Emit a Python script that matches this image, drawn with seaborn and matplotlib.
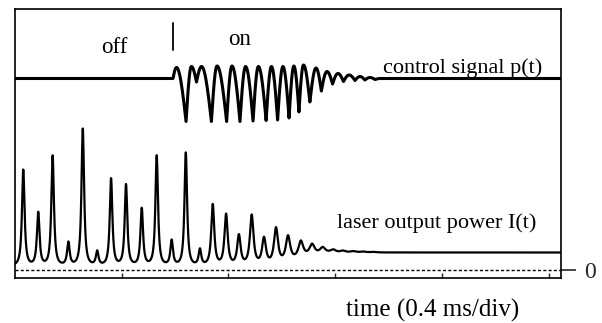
import numpy as np
import pandas as pd
import matplotlib
matplotlib.use("Agg")
import matplotlib.pyplot as plt
import seaborn as sns

# ---- laser output power I(t): relaxation spikes (time in ms, level above zero line) ----
spike_t = [0.031, 0.087, 0.141, 0.200, 0.254, 0.308, 0.360, 0.416, 0.475, 0.531,
           0.587, 0.640, 0.693, 0.741, 0.791, 0.839, 0.887, 0.933, 0.978, 1.023,
           1.071, 1.113, 1.153, 1.192, 1.229, 1.267, 1.304, 1.341]
spike_peak = [100, 57, 114, 27, 141, 18, 91, 85, 61, 114,
              29, 117, 20, 65, 55, 34, 54, 31, 41, 33,
              28, 25, 22, 20, 19, 18.6, 18.3, 18.0]
spike_width = [0.0065, 0.0065, 0.0065, 0.0065, 0.0065, 0.0065, 0.0065, 0.0065, 0.0065, 0.0065,
               0.0065, 0.0065, 0.0065, 0.0075, 0.0080, 0.0085, 0.0090, 0.0095, 0.0100, 0.0110,
               0.0120, 0.0125, 0.0130, 0.0130, 0.0130, 0.0130, 0.0130, 0.0130]
laser_floor = 4.0       # trough level while the laser spikes freely
laser_steady = 17.5     # stabilised output level once control is on
settle_t = 1.06
settle_tau = 0.04

# ---- control signal p(t): turning points of the trace (time in ms, level) ----
ctrl_t = [0.000, 0.592, 0.605, 0.641, 0.661, 0.680, 0.699, 0.736, 0.757, 0.793,
          0.813, 0.843, 0.864, 0.892, 0.912, 0.941, 0.961, 0.984, 1.004, 1.027,
          1.045, 1.064, 1.081, 1.105, 1.128, 1.148, 1.169, 1.190, 1.210, 1.231,
          1.252, 1.274, 1.293, 1.311, 1.330, 1.349, 1.368, 2.046]
ctrl_v = [191.5, 191.5, 202.5, 148.5, 203.5, 188.0, 203.5, 148.5, 204.0, 148.5,
          204.0, 148.5, 203.5, 149.0, 203.5, 149.5, 203.5, 150.0, 203.5, 152.0,
          204.0, 158.0, 205.0, 168.0, 202.0, 179.0, 198.5, 186.0, 196.5, 188.5,
          195.0, 189.5, 193.5, 190.0, 192.5, 190.5, 191.5, 191.5]

div_ticks = [0.4, 0.8, 1.2, 1.6, 2.0]
t_end = 2.046
y_lo, y_hi = -8, 261


def settle(t):
    return laser_floor + (laser_steady - laser_floor) / (1 + np.exp(-(t - settle_t) / settle_tau))


def laser_trace(t):
    level = settle(t)
    for t0, pk, w in zip(spike_t, spike_peak, spike_width):
        level = level + (pk - settle(t0)) * (1 + ((t - t0) / w) ** 2) ** -1.2
    return level


def trace_through(ts, vs, n=30):
    """Scope-like trace: rounded at the crests, sharp at the troughs."""
    xs, ys = [], []
    for a, va, b, vb in zip(ts[:-1], vs[:-1], ts[1:], vs[1:]):
        s = np.linspace(0, 1, n, endpoint=False)
        if vb < va:
            frac = 1 - np.cos(np.pi / 2 * s)
        else:
            frac = np.sin(np.pi / 2 * s)
        xs.append(a + (b - a) * s)
        ys.append(va + (vb - va) * frac)
    xs.append([ts[-1]])
    ys.append([vs[-1]])
    return np.concatenate(xs), np.concatenate(ys)


tt = np.linspace(0, t_end, 6000)
laser_df = pd.DataFrame({"time": tt, "level": laser_trace(tt)})
cx, cy = trace_through(ctrl_t, ctrl_v)
ctrl_df = pd.DataFrame({"time": cx, "level": cy})

sns.set_style("white")
plt.rcParams["font.family"] = ["Liberation Serif", "DejaVu Serif"]

fig = plt.figure(figsize=(6.02, 3.23), dpi=100)
ax = fig.add_axes([15 / 602, 45 / 323, 546 / 602, 269 / 323])

sns.lineplot(data=laser_df, x="time", y="level", ax=ax, color="black",
             lw=1.6, sort=False, estimator=None)
sns.lineplot(data=ctrl_df, x="time", y="level", ax=ax, color="black",
             lw=2.2, sort=False, estimator=None)
ax.axhline(0, color="black", lw=1.0, ls=(0, (2.2, 1.6)))

# switch-on marker
ax.plot([0.592, 0.592], [220, 247], color="black", lw=1.3)

ax.set_xlim(0, t_end)
ax.set_ylim(y_lo, y_hi)
ax.set_xlabel("")
ax.set_ylabel("")
for sp in ax.spines.values():
    sp.set_color("black")
    sp.set_linewidth(1.2)

ax.set_xticks(div_ticks)
ax.set_xticklabels([])
ax.tick_params(axis="x", direction="in", length=3.5, width=1.0, bottom=True, top=False)

ax.yaxis.set_ticks_position("right")
ax.set_yticks([0])
ax.set_yticklabels(["0"])
ax.tick_params(axis="y", direction="out", length=11, width=1.2, pad=6,
               labelsize=17, right=True, left=False)

txt = dict(color="black", fontsize=16)
ax.text(0.373, 217, "off", ha="center", va="baseline", color="black", fontsize=16.5)
ax.text(0.841, 225, "on", ha="center", va="baseline", color="black", fontsize=16.5)
ax.text(1.379, 197, "control signal p(t)", ha="left", va="baseline", **txt)
ax.text(1.207, 42, "laser output power I(t)", ha="left", va="baseline", **txt)
fig.text(433 / 602, 1 - 316.5 / 323, "time (0.4 ms/div)", ha="center", va="baseline",
         color="black", fontsize=18)

fig.savefig("out.png", dpi=100)
